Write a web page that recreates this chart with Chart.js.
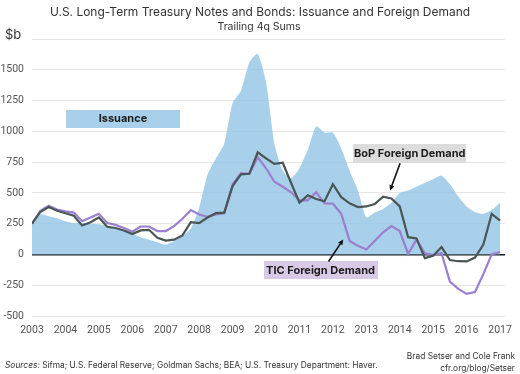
<!DOCTYPE html>
<html>
<head>
<meta charset="utf-8">
<script src="https://cdn.jsdelivr.net/npm/chart.js@4.4.0/dist/chart.umd.min.js"></script>
<style>
  html, body { margin: 0; padding: 0; background: #fff; }
  #wrap { width: 520px; height: 374px; position: relative; }
</style>
</head>
<body>
<div id="wrap"><canvas id="grafico"></canvas></div>
<script>
/* Datos: sumas trimestrales (4q), 2003Q1 - 2017Q1, miles de millones USD */
var firstYear = 2003;
var lastYear = 2017;
var yearTicks = [2003, 2004, 2005, 2006, 2007, 2008, 2009, 2010, 2011, 2012, 2013, 2014, 2015, 2016, 2017];
var valueTicks = [-500, -250, 0, 250, 500, 750, 1000, 1250, 1500, 1750];

var issuance = [
  250, 325, 310, 295, 270, 255, 255, 250,
  245, 235, 215, 195, 170, 140, 120, 100,
  80, 110, 150, 210, 380, 650, 780, 900,
  1230, 1330, 1560, 1630, 1400, 900, 680, 620,
  700, 850, 1040, 990, 990, 860, 680, 520,
  300, 340, 370, 420, 500, 520, 550, 580,
  610, 640, 570, 470, 390, 345, 330, 360,
  420
];
var bopDemand = [
  250, 345, 385, 355, 335, 315, 235, 262,
  300, 225, 215, 195, 165, 195, 200, 135,
  113, 120, 155, 262, 255, 300, 335, 340,
  555, 650, 655, 830, 780, 735, 745, 580,
  420, 480, 450, 432, 570, 465, 415, 385,
  390, 410, 470, 455, 390, 140, 130, -30,
  -10, 60, -45, -55, -57, -25, 80, 330,
  275
];
var ticDemand = [
  250, 355, 395, 365, 350, 340, 270, 300,
  330, 255, 240, 215, 185, 227, 227, 190,
  190, 230, 290, 360, 325, 305, 325, 335,
  570, 660, 655, 790, 700, 590, 550, 505,
  440, 440, 505, 415, 413, 330, 110, 70,
  40, 110, 180, 230, 190, 5, 120, 10,
  -5, 10, -220, -280, -320, -305, -160, 0,
  20
];

/* Trimestres como fracción de año */
var quarters = [];
for (var yy = firstYear; yy <= lastYear; yy++) {
  for (var q = 0; q < 4; q++) {
    if (yy === lastYear && q > 0) break;
    quarters.push(yy + q / 4);
  }
}

function toPoints(values) {
  return values.map(function(v, i) {
    return { x: quarters[i], y: v };
  });
}

var fontFam = 'Inter, "Noto Sans", sans-serif';
var tickFam = 'Roboto, "Noto Sans", sans-serif';

/* Etiquetas con caja y flecha, en coordenadas de datos */
var notes = [
  { text: 'Issuance', x: 2005.72, y: 1104, w: 114, h: 18, fill: '#a9d0ea', arrow: null },
  { text: 'BoP Foreign Demand', x: 2014.30, y: 824, w: 113, h: 19, fill: '#dcdcdc',
    arrow: { x1: 2014.01, y1: 741, x2: 2013.71, y2: 519 } },
  { text: 'TIC Foreign Demand', x: 2011.63, y: -130, w: 114, h: 18, fill: '#d8c9e6',
    arrow: { x1: 2011.87, y1: -57, x2: 2012.31, y2: 122 } }
];

function drawArrow(ctx, x1, y1, x2, y2) {
  var ang = Math.atan2(y2 - y1, x2 - x1);
  var head = 6;
  ctx.beginPath();
  ctx.moveTo(x1, y1);
  ctx.lineTo(x2 - Math.cos(ang) * head * 0.8, y2 - Math.sin(ang) * head * 0.8);
  ctx.stroke();
  ctx.beginPath();
  ctx.moveTo(x2, y2);
  ctx.lineTo(x2 - head * Math.cos(ang - 0.45), y2 - head * Math.sin(ang - 0.45));
  ctx.lineTo(x2 - head * Math.cos(ang + 0.45), y2 - head * Math.sin(ang + 0.45));
  ctx.closePath();
  ctx.fill();
}

// ajusta el tamaño de letra para que el texto ocupe el ancho pedido
function fitFont(ctx, text, base, width, style) {
  ctx.font = style + base + 'px ' + fontFam;
  var size = base * width / ctx.measureText(text).width;
  ctx.font = style + size.toFixed(2) + 'px ' + fontFam;
  return size;
}

var textosPlugin = {
  id: 'textos',
  afterDatasetsDraw: function(chart) {
    var ctx = chart.ctx;
    var xs = chart.scales.x;
    var ys = chart.scales.y;
    ctx.save();
    notes.forEach(function(n) {
      var cx = xs.getPixelForValue(n.x);
      var cy = ys.getPixelForValue(n.y);
      ctx.fillStyle = n.fill;
      ctx.fillRect(Math.round(cx - n.w / 2), Math.round(cy - n.h / 2), n.w, n.h);
      ctx.fillStyle = '#1d1d1d';
      ctx.font = 'bold 11px ' + fontFam;
      ctx.textAlign = 'center';
      ctx.textBaseline = 'middle';
      ctx.fillText(n.text, cx, cy + 0.5);
      if (n.arrow) {
        ctx.strokeStyle = '#111';
        ctx.fillStyle = '#111';
        ctx.lineWidth = 1.6;
        drawArrow(ctx,
          xs.getPixelForValue(n.arrow.x1), ys.getPixelForValue(n.arrow.y1),
          xs.getPixelForValue(n.arrow.x2), ys.getPixelForValue(n.arrow.y2));
      }
    });
    ctx.restore();
  },
  afterDraw: function(chart) {
    var ctx = chart.ctx;
    ctx.save();
    ctx.fillStyle = '#333';
    ctx.textAlign = 'center';
    ctx.textBaseline = 'middle';
    var titulo = 'U.S. Long-Term Treasury Notes and Bonds: Issuance and Foreign Demand';
    fitFont(ctx, titulo, 14, 420, '');
    ctx.fillText(titulo, 260, 12);
    ctx.font = '10.5px ' + fontFam;
    ctx.fillText('Trailing 4q Sums', 259, 27);
    ctx.textAlign = 'left';
    ctx.font = '13px ' + fontFam;
    ctx.fillText('$b', 5, 35);

    var fuente = 'Sifma; U.S. Federal Reserve; Goldman Sachs; BEA; U.S. Treasury Department: Haver.';
    var size = fitFont(ctx, 'Sources: ' + fuente, 9.5, 373, '');
    ctx.font = 'italic ' + size.toFixed(2) + 'px ' + fontFam;
    ctx.fillText('Sources:', 5, 365);
    var w = ctx.measureText('Sources: ').width;
    ctx.font = size.toFixed(2) + 'px ' + fontFam;
    ctx.fillText(fuente, 5 + w, 365);
    ctx.textAlign = 'right';
    ctx.fillText('Brad Setser and Cole Frank', 515, 356);
    ctx.fillText('cfr.org/blog/Setser', 515, 368);
    ctx.restore();
  }
};

var ctx = document.getElementById('grafico');
var grafico = new Chart(ctx, {
  type: 'line',
  data: {
    datasets: [
      {
        label: 'BoP Foreign Demand',
        data: toPoints(bopDemand),
        borderColor: '#4a5656',
        borderWidth: 2.2,
        pointRadius: 0,
        fill: false,
        tension: 0
      },
      {
        label: 'TIC Foreign Demand',
        data: toPoints(ticDemand),
        borderColor: '#9a7fcf',
        borderWidth: 2.2,
        pointRadius: 0,
        fill: false,
        tension: 0
      },
      {
        label: 'Issuance',
        data: toPoints(issuance),
        borderWidth: 0,
        borderColor: 'rgba(0,0,0,0)',
        backgroundColor: 'rgba(146, 196, 229, 0.8)',
        pointRadius: 0,
        fill: 'origin',
        tension: 0.2
      }
    ]
  },
  options: {
    responsive: true,
    maintainAspectRatio: false,
    animation: false,
    events: [],
    layout: { padding: { left: 0, right: 13, top: 39, bottom: 0 } },
    plugins: {
      legend: { display: false },
      tooltip: { enabled: false },
      title: { display: false }
    },
    scales: {
      x: {
        type: 'linear',
        min: firstYear,
        max: lastYear + 0.15,
        afterBuildTicks: function(axis) {
          axis.ticks = yearTicks.map(function(v) { return { value: v }; });
        },
        afterFit: function(axis) { axis.height = 58; },
        grid: { display: false, drawTicks: false },
        border: { display: false },
        ticks: {
          color: '#555',
          padding: 8,
          maxRotation: 0,
          autoSkip: false,
          font: { family: tickFam, size: 10.5 },
          callback: function(v) { return String(v); }
        }
      },
      y: {
        min: -500,
        max: 1750,
        afterBuildTicks: function(axis) {
          axis.ticks = valueTicks.map(function(v) { return { value: v }; });
        },
        afterFit: function(axis) { axis.width = 32; },
        grid: {
          drawTicks: false,
          color: function(c) { return c.tick && c.tick.value === 0 ? '#1a1a1a' : '#e6e6e6'; },
          lineWidth: function(c) { return c.tick && c.tick.value === 0 ? 1.6 : 1; }
        },
        border: { display: false },
        ticks: {
          color: '#555',
          padding: 8,
          font: { family: tickFam, size: 10.5 },
          callback: function(v) { return v === 1750 ? '' : String(v); }
        }
      }
    }
  },
  plugins: [textosPlugin]
});
</script>
</body>
</html>
